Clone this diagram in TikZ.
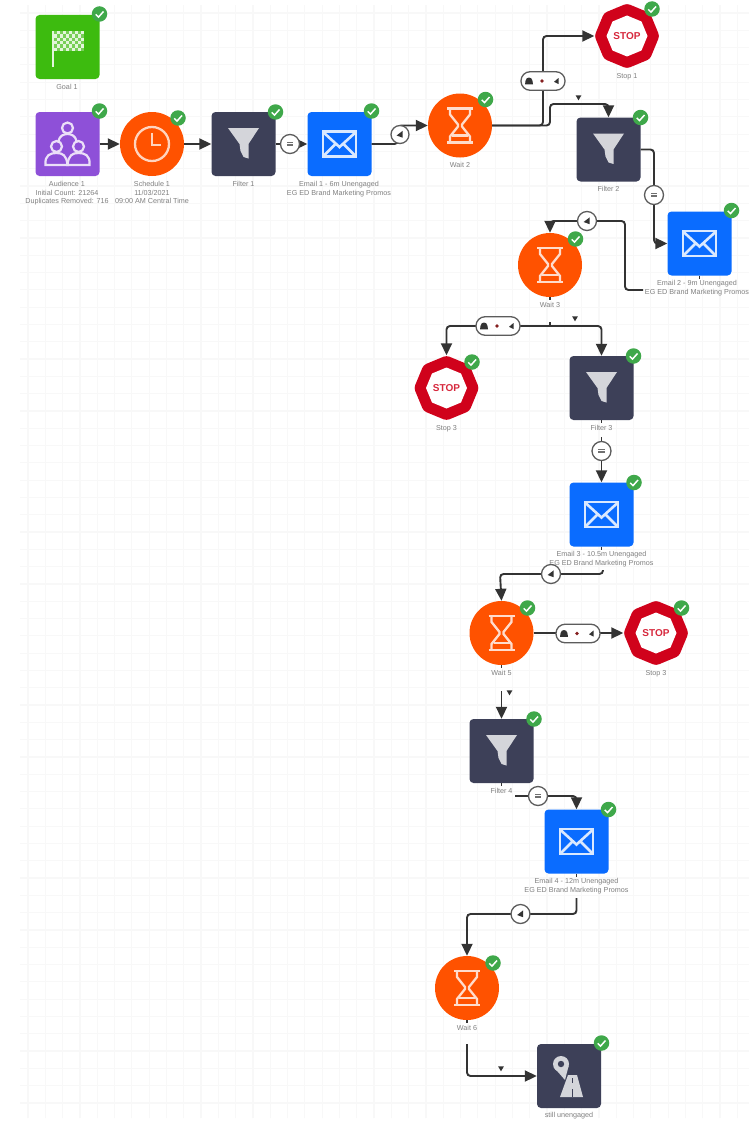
\documentclass[tikz,border=0pt]{standalone}
\usepackage{fontspec}
\setmainfont{Liberation Sans}
\usetikzlibrary{shapes.geometric,arrows.meta}
\definecolor{cgreen}{HTML}{3DBB0F}
\definecolor{cpurple}{HTML}{8E50D8}
\definecolor{corange}{HTML}{FF5200}
\definecolor{cdark}{HTML}{3D4058}
\definecolor{cblue}{HTML}{0A6CFF}
\definecolor{cred}{HTML}{D0021B}
\definecolor{cbadge}{HTML}{3FA84A}
\definecolor{cline}{HTML}{333333}
\definecolor{cgrid}{HTML}{F8F8F8}
\definecolor{ctext}{HTML}{808080}
\tikzset{
  sq/.style={rectangle,rounded corners=4pt,minimum size=64pt,inner sep=0pt},
  rnd/.style={circle,minimum size=64pt,inner sep=0pt,fill=corange},
  octa/.style={regular polygon,regular polygon sides=8,shape border rotate=22.5,minimum size=65pt,inner sep=0pt,fill=cred,rounded corners=3pt},
  lbl/.style={font=\fontsize{7.2}{8.7}\selectfont,text=ctext,align=center,inner sep=0pt,anchor=north},
  conn/.style={draw=cline,line width=1.9pt,rounded corners=3.5pt},
  arr/.style={conn,-{Triangle[length=12pt,width=11pt]}},
  pillc/.style={circle,draw=cline!80!white,line width=1.3pt,fill=white,minimum size=19pt,inner sep=0pt},
  pillw/.style={rectangle,rounded corners=9pt,draw=cline!80!white,line width=1.3pt,fill=white,minimum width=44pt,minimum height=18.5pt,inner sep=0pt},
  tinyf/.style={isosceles triangle,isosceles triangle apex angle=60,shape border rotate=-90,fill=cline,minimum size=5pt,inner sep=0pt},
  badge/.style={circle,fill=cbadge,minimum size=15.5pt,inner sep=0pt}
}
\newcommand{\chk}[3]{% name, dx, dy
  \node[badge] (#1b) at ([shift={(#2,#3)}]#1.center) {};
  \draw[white,line width=1.5pt] ([shift={(-3.8,0.3)}]#1b.center) -- ++(2.8,2.8) -- ++(5,-5.6);
}
\newcommand{\hourglass}[1]{\begin{scope}[shift={(#1.center)},draw=white!80!corange,line width=2.3pt]
  \draw (-13,-17) -- (13,-17) (-13,17) -- (13,17);
  \draw (-10,-17) -- (-10,-11) -- (-2,-1) -- (-2,1) -- (-10,11) -- (-10,17);
  \draw (10,-17) -- (10,-11) -- (2,-1) -- (2,1) -- (10,11) -- (10,17);
  \draw (-8,10) -- (8,10);
\end{scope}}
\newcommand{\funnel}[1]{\begin{scope}[shift={(#1.center)}]
  \fill[fill=white!78!cdark] (-15.5,-16) -- (15.5,-16) -- (5,0) -- (5,14.5) -- (0,13) -- (-3,7) -- (-4,0) -- cycle;
\end{scope}}
\newcommand{\envelope}[1]{\begin{scope}[shift={(#1.center)},draw=white!85!cblue,line width=2.6pt]
  \draw (-16.5,-12.5) rectangle (16.5,12.5);
  \draw (-16.5,-12) -- (0,3) -- (16.5,-12);
  \draw (-16.5,12.5) -- (-4,0) (16.5,12.5) -- (4,0);
\end{scope}}
\newcommand{\stoptxt}[1]{
  \node[regular polygon,regular polygon sides=8,shape border rotate=22.5,minimum size=41pt,inner sep=0pt,fill=white] (#1i) at (#1.center) {};
  \node[font=\bfseries\fontsize{10}{11}\selectfont,text=cred!85!white,inner sep=0pt] (#1t) at (#1.center) {STOP};
}
\newcommand{\mailglyph}[1]{\fill[cline!70!white] ([shift={(-3.4,-2.4)}]#1.center) rectangle ([shift={(3.4,2.4)}]#1.center);
  \draw[white,line width=.6pt] ([shift={(-3.4,-1)}]#1.center) -- ([shift={(3.4,-1)}]#1.center);}
\newcommand{\hornglyph}[1]{\fill[cline] ([shift={(-3.4,1)}]#1.center) -- ([shift={(2.6,-3.6)}]#1.center) -- ([shift={(2.6,3.2)}]#1.center) -- cycle;}
\newcommand{\trioglyph}[1]{%
  \fill[cline] ([shift={(-18,3.4)}]#1.center) -- ([shift={(-10,3.4)}]#1.center) -- ([shift={(-10.6,-0.5)}]#1.center) .. controls ([shift={(-11,-4.4)}]#1.center) and ([shift={(-17,-4.4)}]#1.center) .. ([shift={(-17.4,-0.5)}]#1.center) -- cycle;
  \fill[cline!60!red] ([shift={(-1,0)}]#1.center) circle (1.8pt);
  \fill[cline] ([shift={(11,0.8)}]#1.center) -- ([shift={(15.5,-3)}]#1.center) -- ([shift={(15.5,3)}]#1.center) -- cycle;
}
\begin{document}
\begin{tikzpicture}[x=1pt,y=-1pt]
\useasboundingbox (0,0) rectangle (749,1124);
\fill[white] (0,0) rectangle (749,1124);
\draw[cgrid,line width=1.2pt,step=17.3pt,shift={(28,13)}] (-8,-8) grid (721,1105);

% shapes
\node[sq,fill=cgreen] (goal) at (67.5,47) {};
\node[sq,fill=cpurple] (aud) at (67.5,144) {};
\node[rnd] (sch) at (152,144) {};
\node[sq,fill=cdark] (f1) at (243.5,144) {};
\node[sq,fill=cblue] (e1) at (339.5,144) {};
\node[rnd] (w2) at (460,125.5) {};
\node[octa] (s1) at (627,36) {};
\node[sq,fill=cdark] (f2) at (608.5,149.5) {};
\node[sq,fill=cblue] (e2) at (699.5,243.5) {};
\node[rnd] (w3) at (550,265) {};
\node[octa] (s2) at (446.5,388) {};
\node[sq,fill=cdark] (f3) at (601.5,388) {};
\node[sq,fill=cblue] (e3) at (601.5,514.5) {};
\node[rnd] (w5) at (501.5,633) {};
\node[octa] (s3) at (656,633) {};
\node[sq,fill=cdark] (f4) at (501.5,751) {};
\node[sq,fill=cblue] (e4) at (576.5,841.5) {};
\node[rnd] (w6) at (467,988) {};
\node[sq,fill=cdark] (st) at (569,1076) {};

% icons
\begin{scope}[shift={(goal.center)}]
  \draw[white!85!cgreen,line width=1.4pt] (-14.5,-16) -- (-14.5,20);
  \fill[white!85!cgreen] (-14.5,-16) rectangle (16,4);
  \foreach \i in {0,...,9} \foreach \j in {0,...,5} {
    \pgfmathparse{int(mod(\i+\j,2))}
    \ifnum\pgfmathresult=0 \fill[cgreen!70!white] (-13.5+\i*3,-16+\j*3.35) rectangle ++(3,3.35); \fi
  }
\end{scope}
\begin{scope}[shift={(aud.center)},draw=white!82!cpurple,line width=2.2pt]
  \draw (0,-16) circle (5.5);
  \draw (-11,2.5) circle (5.5);
  \draw (11,2.5) circle (5.5);
  \draw (-9,-3) .. controls (-8,-8) and (-4,-10) .. (0,-10) .. controls (4,-10) and (8,-8) .. (9,-3);
  \draw (-22,21) .. controls (-23,11) and (-17,9) .. (-11,9) .. controls (-5,9) and (-1,11) .. (0,21) -- cycle;
  \draw (22,21) .. controls (23,11) and (17,9) .. (11,9) .. controls (5,9) and (1,11) .. (0,21) -- cycle;
\end{scope}
\begin{scope}[shift={(sch.center)},draw=white!75!corange,line width=2.3pt]
  \draw (0,0) circle (17);
  \draw (0,-11) -- (0,1) -- (9,1);
\end{scope}
\funnel{f1}\funnel{f2}\funnel{f3}\funnel{f4}
\envelope{e1}\envelope{e2}\envelope{e3}\envelope{e4}
\hourglass{w2}\hourglass{w3}\hourglass{w5}\hourglass{w6}
\stoptxt{s1}\stoptxt{s2}\stoptxt{s3}
\begin{scope}[shift={(st.center)}]
  \fill[white!78!cdark] (-9,21) -- (-1,-1) -- (8,-1) -- (14,21) -- cycle;
  \fill[cdark] (2.6,2) rectangle (4.4,7);
  \fill[cdark] (2.6,13) rectangle (4.4,21);
  \fill[white!78!cdark] (-8,-12) circle (8);
  \fill[white!78!cdark] (-15.4,-9) -- (-4,4) -- (-0.4,-10) -- cycle;
  \fill[cdark] (-8,-12) circle (3.2);
\end{scope}

% labels
\node[lbl] (lgoal) at (67,84.5) {Goal 1};
\node[lbl] (laud) at (67,181) {Audience 1\\Initial Count: 21264\\Duplicates Removed: 716};
\node[lbl] (lsch) at (152,181) {Schedule 1\\11/03/2021\\09:00 AM Central Time};
\node[lbl] (lf1) at (243.5,181) {Filter 1};
\node[lbl] (le1) at (339,181) {Email 1 - 6m Unengaged\\EG ED Brand Marketing Promos};
\node[lbl] (lw2) at (460,162) {Wait 2};
\node[lbl] (ls1) at (627,73) {Stop 1};
\node[lbl] (lf2) at (608.5,186.5) {Filter 2};
\node[lbl] (le2) at (697,280.5) {Email 2 - 9m Unengaged\\EG ED Brand Marketing Promos};
\node[lbl] (lw3) at (550,302) {Wait 3};
\node[lbl] (ls2) at (446.5,425) {Stop 3};
\node[lbl] (lf3) at (601.5,425) {Filter 3};
\node[lbl] (le3) at (601.5,551.5) {Email 3 - 10.5m Unengaged\\EG ED Brand Marketing Promos};
\node[lbl] (lw5) at (501.5,670) {Wait 5};
\node[lbl] (ls3) at (656,670) {Stop 3};
\node[lbl] (lf4) at (501.5,788) {Filter 4};
\node[lbl] (le4) at (576.5,878.5) {Email 4 - 12m Unengaged\\EG ED Brand Marketing Promos};
\node[lbl] (lw6) at (467,1025) {Wait 6};
\node[lbl] (lst) at (569,1112.5) {still unengaged};

% free ends of connectors that resume below a label
\coordinate (c3) at (550,322);
\coordinate (c3a) at (550,326);
\coordinate (c4) at (601.5,437);
\coordinate (c5) at (603,570);
\coordinate (c6) at (501.5,691);
\coordinate (c7) at (515,796);
\coordinate (c8) at (576.5,898);
\coordinate (c9) at (467,1044);
\coordinate (c2) at (643,290);

% connectors
\draw[arr] (aud.east) -- (sch.west);
\draw[arr] (sch.east) -- (f1.west);
\draw[arr] (f1.east) -- (e1.west);
\draw[arr] (e1.east) -| (398,125.5) -- (w2.west);
\draw[arr] (w2.east) -| (543,36) -- (s1.west);
\draw[arr] (w2.east) -| (550,104) -| (f2.north);
\draw[arr] (f2.east) -- (654,149.5) |- (e2.west);
\draw[conn] (e2.south) -- ++(0,3);
\draw[arr] (c2) -| (625,221) -| (w3.north);
\draw[conn] (w3.south) -- ++(0,3);
\draw[conn] (c3) -- (c3a);
\draw[arr] (c3a) -| (s2.north);
\draw[arr] (c3a) -| (f3.north);
\draw[conn] (f3.south) -- ++(0,3);
\draw[arr] (c4) -- (e3.north);
\draw[conn] (e3.south) -- ++(0,3);
\draw[arr] (c5) |- (500,574) -- (w5.north);
\draw[arr] (w5.east) -- (s3.west);
\draw[conn] (w5.south) -- ++(0,3);
\draw[arr] (c6) -- (f4.north);
\draw[conn] (f4.south) -- ++(0,3);
\draw[arr] (c7) -| (e4.north);
\draw[conn] (e4.south) -- ++(0,3);
\draw[arr] (c8) |- (467,914) -- (w6.north);
\draw[conn] (w6.south) -- ++(0,3);
\draw[arr] (c9) |- (st.west);

% connector pills
\node[pillc] (p1) at (290,144) {}; \mailglyph{p1}
\node[pillc,minimum size=18pt] (p2) at (400,134.5) {}; \hornglyph{p2}
\node[pillw] (p3) at (543,81) {}; \trioglyph{p3}
\node[pillc] (p4) at (654,195) {}; \mailglyph{p4}
\node[pillc] (p5) at (587,221) {}; \hornglyph{p5}
\node[pillw] (p6) at (498,326) {}; \trioglyph{p6}
\node[pillc] (p7) at (601.5,451) {}; \mailglyph{p7}
\node[pillc] (p8) at (551,574) {}; \hornglyph{p8}
\node[pillw] (p9) at (578,633.5) {}; \trioglyph{p9}
\node[pillc] (p10) at (538,796) {}; \mailglyph{p10}
\node[pillc] (p11) at (520.5,914) {}; \hornglyph{p11}
\node[tinyf] (t1) at (578.5,97) {};
\node[tinyf] (t2) at (575,318) {};
\node[tinyf] (t3) at (509.5,692) {};
\node[tinyf] (t4) at (501,1068) {};

% status badges
\chk{goal}{32}{-33}\chk{aud}{32}{-33}\chk{sch}{26}{-26}\chk{f1}{32}{-32}\chk{e1}{32}{-33}
\chk{w2}{25.5}{-26}\chk{s1}{25}{-27}\chk{f2}{32}{-32}\chk{e2}{32}{-33}\chk{w3}{25.5}{-26}
\chk{s2}{25.5}{-26}\chk{f3}{32}{-32}\chk{e3}{32.5}{-32}\chk{w5}{26}{-25}\chk{s3}{25.5}{-25}
\chk{f4}{32.5}{-32}\chk{e4}{32}{-32}\chk{w6}{26}{-25}\chk{st}{32.5}{-33}
\end{tikzpicture}
\end{document}
